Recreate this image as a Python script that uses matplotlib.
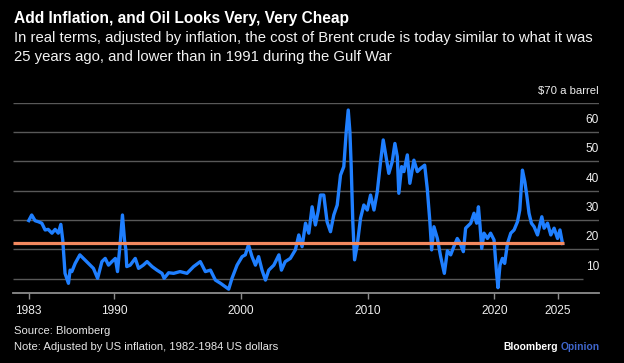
import matplotlib
matplotlib.use("Agg")
import matplotlib.pyplot as plt

plt.rcParams['font.family'] = ['Liberation Sans', 'DejaVu Sans']

# real Brent crude, 1982-84 US dollars
years = [1983.27, 1983.5, 1983.77, 1984.03, 1984.3, 1984.56, 1984.8, 1985.1, 1985.35, 1985.6,
         1985.8, 1985.95, 1986.13, 1986.4, 1986.53, 1986.67, 1986.93, 1987.3, 1987.58, 1987.97,
         1988.37, 1988.7, 1989.04, 1989.3, 1989.56, 1989.83, 1990.1, 1990.27, 1990.48, 1990.66,
         1990.82, 1990.93, 1991.0, 1991.27, 1991.67, 1991.93, 1992.3, 1992.6, 1993.0, 1993.38,
         1993.78, 1993.95, 1994.3, 1994.7, 1995.2, 1995.75, 1996.27, 1996.8, 1997.2, 1997.6,
         1997.99, 1998.4, 1998.78, 1999.04, 1999.3, 1999.7, 2000.1, 2000.35, 2000.6, 2000.88,
         2001.15, 2001.4, 2001.67, 2001.94, 2002.2, 2002.6, 2003.0, 2003.2, 2003.5, 2003.9,
         2004.3, 2004.57, 2004.83, 2005.1, 2005.36, 2005.62, 2005.88, 2006.1, 2006.28, 2006.54,
         2006.8, 2007.07, 2007.33, 2007.6, 2007.86, 2008.12, 2008.31, 2008.47, 2008.6, 2008.7,
         2008.83, 2008.97, 2009.18, 2009.44, 2009.7, 2009.97, 2010.23, 2010.5, 2010.76, 2011.02,
         2011.23, 2011.41, 2011.67, 2011.94, 2012.15, 2012.34, 2012.46, 2012.68, 2012.86, 2013.13,
         2013.33, 2013.65, 2013.92, 2014.18, 2014.5, 2014.7, 2014.91, 2015.05, 2015.23, 2015.5,
         2015.76, 2016.05, 2016.29, 2016.55, 2016.8, 2017.07, 2017.3, 2017.55, 2017.73, 2018.13,
         2018.39, 2018.6, 2018.74, 2018.86, 2019.0, 2019.18, 2019.45, 2019.7, 2019.97, 2020.16,
         2020.28, 2020.44, 2020.63, 2020.81, 2021.03, 2021.29, 2021.55, 2021.82, 2022.0, 2022.21,
         2022.4, 2022.55, 2022.73, 2022.92, 2023.13, 2023.4, 2023.74, 2023.92, 2024.19, 2024.45,
         2024.71, 2024.98, 2025.17, 2025.37]
price = [29.8, 31.7, 29.75, 29.4, 28.9, 26.6, 26.8, 25.5, 26.8, 25.5,
         28.5, 23.2, 11.8, 8.4, 12.9, 12.4, 15.2, 18.1, 16.9, 15.2,
         13.5, 10.1, 15.8, 16.9, 14.6, 15.8, 16.9, 12.4, 22.0, 31.7,
         23.2, 19.8, 14.1, 14.6, 16.9, 13.5, 14.6, 15.8, 14.1, 12.9,
         11.8, 10.1, 12.0, 11.8, 12.4, 11.8, 14.1, 15.8, 12.4, 12.9,
         9.5, 8.4, 7.2, 6.4, 10.1, 14.6, 17.5, 18.1, 21.5, 17.5,
         14.6, 17.5, 12.9, 9.5, 12.9, 14.6, 18.1, 12.9, 15.8, 16.9,
         19.8, 24.9, 20.9, 28.9, 25.5, 34.5, 28.3, 33.0, 38.5, 38.5,
         29.4, 26.0, 31.7, 35.1, 45.3, 48.2, 60.1, 67.5, 60.1, 48.7,
         29.4, 16.4, 21.5, 30.6, 35.1, 33.4, 38.5, 33.4, 39.6, 49.9,
         57.3, 52.7, 45.9, 49.9, 56.1, 51.6, 39.1, 48.2, 46.5, 52.2,
         42.5, 50.4, 46.5, 47.6, 48.7, 40.8, 29.4, 19.8, 27.7, 23.7,
         17.5, 11.8, 19.5, 18.1, 20.9, 23.7, 22.0, 19.2, 27.2, 28.9,
         32.3, 28.9, 34.5, 28.3, 20.3, 25.5, 23.7, 25.5, 23.2, 12.4,
         6.9, 14.6, 16.9, 15.2, 22.0, 25.5, 26.6, 29.4, 33.4, 47.0,
         43.0, 38.5, 32.3, 28.9, 27.7, 24.9, 31.1, 27.2, 28.9, 24.9,
         27.2, 23.7, 26.6, 22.0]
today_level = 22.0
grid_vals = [10, 20, 30, 40, 50, 60, 70]
y_labels = ['10', '20', '30', '40', '50', '60', '$70 a barrel']
tick_years = [years[0], 1990, 2000, 2010, 2020, 2025]
tick_labels = ['1983', '1990', '2000', '2010', '2020', '2025']

W, H = 624, 363
fig = plt.figure(figsize=(W / 100, H / 100), dpi=100, facecolor='black')


def fx(px):
    return px / W


def fy(py):
    return 1 - py / H


ax = fig.add_axes([fx(13.3), fy(292.7), (599 - 13.3) / W, (292.7 - 102.7) / H])
ax.set_facecolor('black')
x0, x1 = 1982.05, 2028.25
ax.set_xlim(x0, x1)
ax.set_ylim(5.2, 70)

for s in ['top', 'right', 'left']:
    ax.spines[s].set_visible(False)
ax.spines['bottom'].set_color('#8c8c8c')
ax.spines['bottom'].set_linewidth(1.3)

# gridlines (the 10 line stops a bit short)
for v in grid_vals:
    xe = 2027.0 if v == 10 else x1
    ax.hlines(v, x0, xe, color='#585858', lw=1.0, zorder=1)

ax.plot(years, price, color='#1f7fff', lw=2.4, zorder=3, solid_joinstyle='round')
ax.hlines(today_level, x0, 2025.5, color='#f4895f', lw=2.3, zorder=4)

ax.set_yticks([])
ax.set_xticks(tick_years)
ax.set_xticklabels(tick_labels)
ax.tick_params(axis='x', colors='#8c8c8c', length=4, width=1, pad=5,
               labelcolor='#eeeeee', labelsize=8.6)

yt = ax.get_yaxis_transform()
for v, lab in zip(grid_vals, y_labels):
    ax.text(1.0, v + 4.1, lab, transform=yt, ha='right', va='center',
            color='#eeeeee', fontsize=8.6 if v < 70 else 8.2, clip_on=False)

fig.text(fx(14), fy(18), 'Add Inflation, and Oil Looks Very, Very Cheap',
         color='white', fontsize=11.2, fontweight='bold', va='center')
fig.text(fx(14), fy(38), 'In real terms, adjusted by inflation, the cost of Brent crude is today similar to what it was',
         color='#f2f2f2', fontsize=10.7, va='center')
fig.text(fx(14), fy(57), '25 years ago, and lower than in 1991 during the Gulf War',
         color='#f2f2f2', fontsize=10.7, va='center')

fig.text(fx(14), fy(331), 'Source: Bloomberg', color='#e6e6e6', fontsize=8.1, va='center')
fig.text(fx(14), fy(347), 'Note: Adjusted by US inflation, 1982-1984 US dollars',
         color='#e6e6e6', fontsize=8.1, va='center')

op = fig.text(fx(599.3), fy(347), 'Opinion', color='#3f66cc', fontsize=7.4,
              fontweight='bold', ha='right', va='center')
r = fig.canvas.get_renderer()
bb = op.get_window_extent(renderer=r)
fig.text(bb.x0 / W - fx(2.5), fy(347), 'Bloomberg', color='white', fontsize=7.4,
         fontweight='bold', ha='right', va='center')

fig.savefig('out.png', dpi=100, facecolor='black')
